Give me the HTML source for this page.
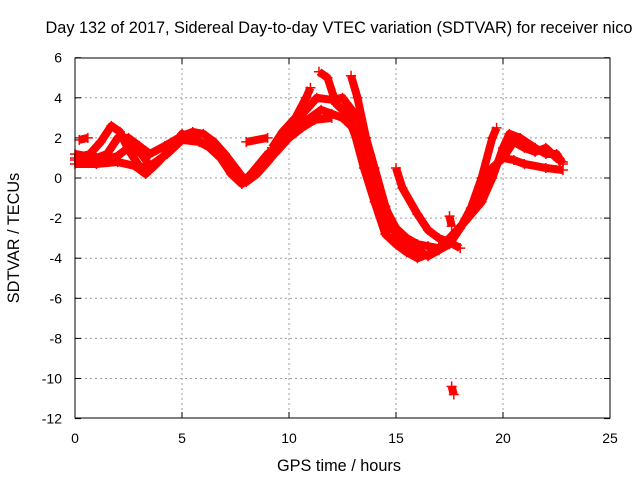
<!DOCTYPE html>
<html><head><meta charset="utf-8"><style>
body{margin:0;background:#fff;width:640px;height:480px;overflow:hidden}
text{font-family:"Liberation Sans",sans-serif;font-size:14px;fill:#000}
.big{font-size:16.3px}
</style></head><body>
<svg id="chart" width="640" height="480" xmlns="http://www.w3.org/2000/svg">
<text class="big" x="339" y="33" text-anchor="middle">Day 132 of 2017, Sidereal Day-to-day VTEC variation (SDTVAR) for receiver nico</text>
<text class="big" x="339" y="471" text-anchor="middle">GPS time / hours</text>
<text class="big" transform="translate(19,238) rotate(-90)" text-anchor="middle">SDTVAR / TECUs</text>
<g id="grid"></g><g id="marks"></g>
<rect x="75" y="58" width="535" height="360" fill="none" stroke="#000" stroke-width="1"/>
</svg>
<script>
const xTicks=[0,5,10,15,20,25];
const yTicks=[6,4,2,0,-2,-4,-6,-8,-10,-12];
const track1=[[0,0.7],[1,0.7],[2,0.8],[2.8,0.6],[3.3,0.2],[3.8,0.7],[4.5,1.5],[5,2.2],[5.5,2.0],[6.2,1.6],[6.8,1.0],[7.3,0.2],[7.8,-0.3],[8.3,0.3],[9,1.2],[9.5,1.6],[10,2.3],[10.5,2.8],[11,3.0],[11.5,3.4],[12,3.2],[12.5,3.0],[13,2.5],[13.5,0.5],[14,-1.2],[14.5,-2.8],[15,-3.3],[15.5,-3.7],[16,-4.0],[16.5,-3.8],[17,-3.6],[17.5,-3.3],[18,-2.5],[18.5,-1.5],[19,-0.5],[19.5,0.5],[20,1.0],[20.5,0.9],[21,0.7],[22,0.5],[22.8,0.4]];
const track2=[[0,1.2],[1,1.0],[1.5,1.2],[2,2.0],[2.5,2.0],[3,1.6],[3.5,1.2],[4.2,1.6],[5,2.1],[5.5,2.3],[6,2.2],[6.5,1.8],[7,1.2],[7.5,0.5],[8,-0.2],[8.5,0.2],[9,0.8],[9.7,1.7],[10.2,2.8],[10.8,3.4],[11.3,4.0],[12,3.9],[12.5,4.0],[13,3.3],[13.5,1.5],[14,0],[14.5,-1.5],[15,-2.5],[15.5,-3.0],[16,-3.3],[16.5,-3.4],[17,-3.5],[17.5,-3.0],[18.2,-2.2],[19,-1.2],[19.5,0],[20,1.5],[20.3,2.2],[20.8,2.0],[21.5,1.5],[22,1.2],[22.5,1.2],[22.8,0.7]];
const track3=[[0,1.0],[0.7,1.2],[1.2,1.8],[1.7,2.6],[2.1,2.3],[2.5,1.4],[3,0.6],[3.5,0.4]];
const track4=[[9.2,1.5],[9.7,2.3],[10.3,3.0],[10.8,4.0],[11,4.5]];
const track5=[[11.4,5.3],[11.8,5.0],[12.2,3.7],[12.7,3.2],[13.5,1.0],[14,-0.8],[14.5,-2.4],[14.8,-2.7]];
const track6=[[12.9,5.1],[13.2,4.0],[13.6,2.0],[14,0.5],[14.5,-1.4],[15,-2.8],[15.5,-3.3],[16,-3.6],[16.5,-3.9],[17,-3.6]];
const track7=[[15,0.5],[15.3,-0.5],[16,-1.8],[16.5,-2.6],[17,-3.0],[17.5,-3.2],[18,-3.5]];
const track8=[[18.5,-1.5],[19,0.0],[19.5,2.0],[19.7,2.5]];
const track9=[[20,1.0],[20.5,1.8],[21,1.5],[21.5,1.3],[22,1.5],[22.5,1.0],[22.8,0.8]];
const track10=[[0.2,1.9],[0.6,2.0]];
const track11=[[8,1.8],[9,2.0]];
const track12=[[17.5,-1.9],[17.6,-2.4]];
const track13=[[17.6,-10.4],[17.7,-10.8]];
const track14=[[0,0.9],[1,0.8],[2,1.1],[2.6,1.6],[3.1,1.2],[3.5,0.6],[4.3,1.2],[5,1.9],[5.8,1.8],[6.5,1.4],[7.2,0.6],[7.9,-0.1],[8.7,0.6],[9.4,1.3],[10,2.0],[10.6,2.5],[11.2,2.9],[12,3.0]];
const tracks=[track1,track2,track3,track4,track5,track6,track7,track8,track9,track10,track11,track12,track13,track14];
const NS="http://www.w3.org/2000/svg";
const X=v=>75+v*21.4, Y=v=>178-v*20.05;
const grid=document.getElementById('grid'), marks=document.getElementById('marks'), svg=document.getElementById('chart');
function mk(tag,attrs,parent){const e=document.createElementNS(NS,tag);for(const k in attrs)e.setAttribute(k,attrs[k]);parent.appendChild(e);return e;}
xTicks.forEach(t=>{
 if(t>0&&t<25){const l=mk('line',{x1:X(t),x2:X(t),y1:58,y2:418,stroke:'#999','stroke-dasharray':'2,3'},grid);
 
 }
 mk('line',{x1:X(t),x2:X(t),y1:418,y2:412,stroke:'#000'},grid);
 mk('line',{x1:X(t),x2:X(t),y1:58,y2:64,stroke:'#000'},grid);
 const tx=mk('text',{x:X(t),y:443,'text-anchor':'middle'},svg);tx.textContent=t;
 
 
});
yTicks.forEach(t=>{
 if(t<6&&t>-12){const l=mk('line',{x1:75,x2:610,y1:Y(t),y2:Y(t),stroke:'#999','stroke-dasharray':'2,3'},grid);
 
 }
 mk('line',{x1:75,x2:81,y1:Y(t),y2:Y(t),stroke:'#000'},grid);
 mk('line',{x1:610,x2:604,y1:Y(t),y2:Y(t),stroke:'#000'},grid);
 const tx=mk('text',{x:62,y:Y(t)+5,'text-anchor':'end'},svg);tx.textContent=t;
 
 
});
tracks.forEach(tr=>{
 const p=mk('polyline',{points:tr.map(d=>X(d[0])+','+Y(d[1])).join(' '),fill:'none',stroke:'#f00','stroke-width':8,'stroke-linejoin':'round','stroke-linecap':'butt'},marks);
 
 
 tr.forEach(d=>{
  const m=mk('path',{d:`M${X(d[0])-5},${Y(d[1])}h10M${X(d[0])},${Y(d[1])-5}v10`,stroke:'#f00','stroke-width':1.5},marks);
  
  
 });
});
</script>
</body></html>
